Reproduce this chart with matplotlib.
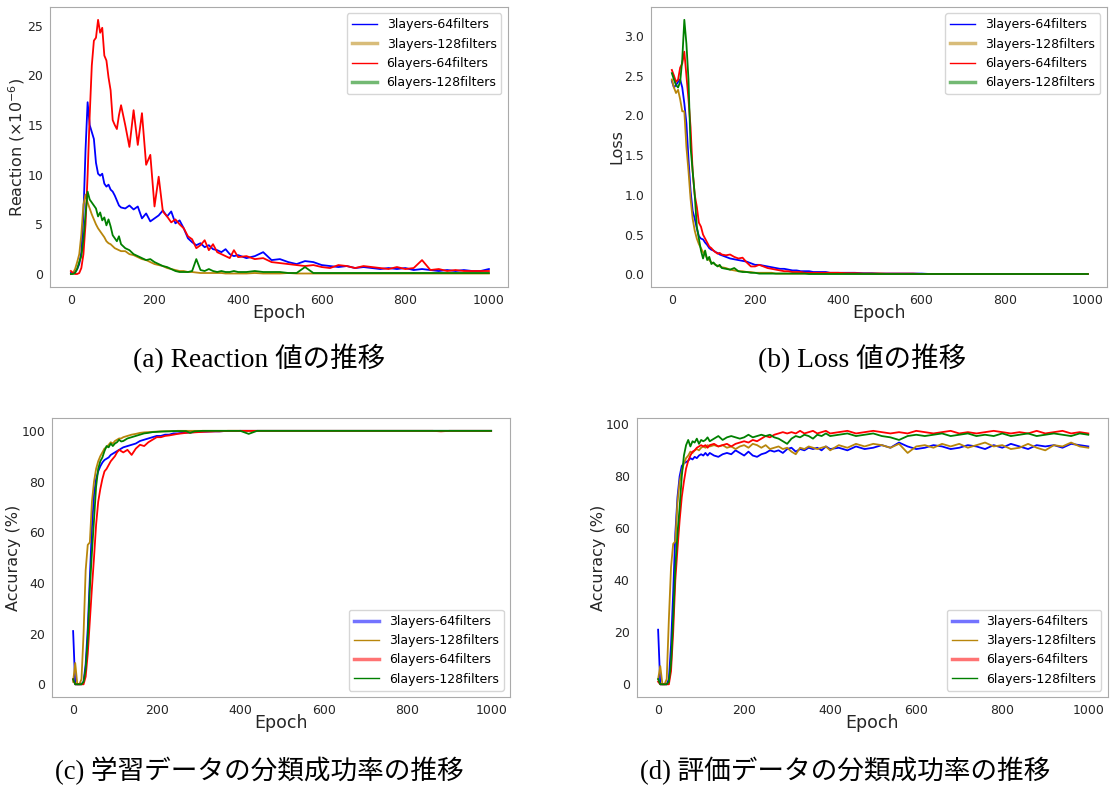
import matplotlib
matplotlib.use("Agg")
import matplotlib.pyplot as plt
from matplotlib.lines import Line2D

epochs = list(range(0, 121, 5)) + list(range(130, 401, 10)) + list(range(420, 1001, 20))

labels = ["3layers-64filters", "3layers-128filters", "6layers-64filters", "6layers-128filters"]
colors = ["blue", "darkgoldenrod", "red", "green"]

######### (a) Reaction (x10^-6)
react_3_64 = [0.1, 0.1, 0.2, 0.5, 1.0, 2.2, 6.0, 12.5, 17.3, 15.0, 14.3, 13.6, 11.2, 10.1, 9.9, 10.1, 9.1, 8.8, 9.0, 8.5, 8.3, 7.9, 7.4, 6.9, 6.7,
              6.6, 6.9, 6.5, 6.8, 5.6, 6.1, 5.3, 5.6, 5.9, 6.4, 5.8, 6.3, 5.1, 5.4, 4.6, 3.6, 3.2, 2.9, 3.1, 2.7, 2.9, 2.5, 2.4, 2.2, 2.5, 2.0, 1.8, 1.9,
              1.6, 1.8, 2.2, 1.4, 1.5, 1.2, 1.0, 1.3, 1.2, 0.9, 0.8, 0.7, 0.8, 0.6, 0.7, 0.6, 0.5, 0.6, 0.5, 0.6, 0.4, 0.5, 0.4, 0.3, 0.4, 0.3, 0.4, 0.3, 0.3, 0.5]
react_3_128 = [0.0, 0.1, 0.5, 1.2, 2.0, 4.0, 7.0, 8.0, 7.2, 6.6, 6.0, 5.5, 5.0, 4.6, 4.3, 4.0, 3.7, 3.3, 3.1, 3.0, 2.8, 2.6, 2.5, 2.4, 2.3,
               2.3, 2.0, 1.9, 1.7, 1.5, 1.4, 1.2, 1.0, 0.9, 0.8, 0.6, 0.5, 0.4, 0.3, 0.3, 0.2, 0.2, 0.15, 0.1, 0.1, 0.1, 0.1, 0.1, 0.1, 0.05, 0.05, 0.05, 0.05,
               0.05, 0.1, 0.05, 0.05, 0.05, 0.1, 0.05, 0.05, 0.05, 0.05, 0.05, 0.05, 0.05, 0.05, 0.05, 0.05, 0.05, 0.05, 0.05, 0.05, 0.05, 0.05, 0.05, 0.05, 0.05, 0.05, 0.05, 0.05, 0.05, 0.05]
react_6_64 = [0.3, 0.1, 0.0, 0.0, 0.1, 0.6, 2.0, 5.0, 10.0, 16.0, 21.0, 23.5, 23.8, 25.6, 24.3, 24.8, 22.0, 21.5, 19.8, 18.5, 15.5, 15.0, 14.6, 16.0, 17.0,
              15.0, 12.8, 16.5, 13.0, 16.2, 11.0, 12.0, 6.8, 9.8, 6.3, 5.8, 5.2, 5.5, 5.0, 4.6, 3.8, 3.5, 2.6, 2.9, 3.4, 2.4, 3.0, 2.2, 2.0, 1.8, 1.6, 2.4, 1.7,
              1.8, 1.5, 1.6, 1.2, 1.1, 1.0, 0.9, 0.8, 0.9, 0.7, 0.6, 0.9, 0.8, 0.6, 0.8, 0.7, 0.6, 0.5, 0.7, 0.5, 0.6, 1.4, 0.4, 0.5, 0.3, 0.4, 0.3, 0.3, 0.3, 0.3]
react_6_128 = [0.0, 0.0, 0.1, 0.5, 1.2, 1.8, 3.5, 6.0, 8.3, 7.5, 7.2, 6.9, 6.6, 5.8, 6.2, 5.4, 5.7, 4.9, 5.5, 4.8, 3.9, 3.6, 3.3, 3.8, 3.0,
               2.6, 2.4, 2.0, 1.8, 1.6, 1.4, 1.5, 1.2, 1.0, 0.8, 0.7, 0.5, 0.3, 0.2, 0.2, 0.2, 0.3, 1.5, 0.4, 0.3, 0.5, 0.3, 0.2, 0.3, 0.2, 0.2, 0.3, 0.2,
               0.2, 0.3, 0.2, 0.2, 0.2, 0.1, 0.1, 0.7, 0.1, 0.1, 0.1, 0.1, 0.1, 0.1, 0.1, 0.1, 0.1, 0.1, 0.1, 0.1, 0.1, 0.1, 0.1, 0.1, 0.1, 0.1, 0.1, 0.1, 0.1, 0.1]

######### (b) Loss
loss_3_64 = [2.43, 2.35, 2.38, 2.42, 2.45, 2.35, 2.15, 1.9, 1.45, 1.05, 0.8, 0.7, 0.58, 0.48, 0.45, 0.44, 0.4, 0.37, 0.33, 0.31, 0.3, 0.28, 0.27, 0.25, 0.24,
             0.22, 0.2, 0.19, 0.18, 0.17, 0.16, 0.14, 0.12, 0.12, 0.11, 0.1, 0.09, 0.08, 0.07, 0.07, 0.06, 0.05, 0.05, 0.04, 0.04, 0.04, 0.03, 0.03, 0.03, 0.03, 0.02, 0.02, 0.02,
             0.02, 0.02, 0.015, 0.015, 0.01, 0.01, 0.01, 0.01, 0.01, 0.01, 0.005, 0.005, 0.005, 0.005, 0.005, 0.005, 0.005, 0.005, 0.005, 0.005, 0.005, 0.005, 0.005, 0.005, 0.005, 0.005, 0.005, 0.005, 0.005, 0.005]
loss_3_128 = [2.45, 2.35, 2.28, 2.32, 2.2, 2.05, 2.05, 1.6, 1.3, 0.95, 0.7, 0.55, 0.45, 0.38, 0.33, 0.28, 0.25, 0.2, 0.18, 0.15, 0.14, 0.12, 0.11, 0.1, 0.09,
              0.08, 0.06, 0.05, 0.04, 0.04, 0.03, 0.03, 0.02, 0.02, 0.02, 0.02, 0.02, 0.01, 0.01, 0.01, 0.01, 0.01, 0.01, 0.01, 0.01, 0.01, 0.01, 0.01, 0.01, 0.01, 0.01, 0.01, 0.01,
              0.01, 0.01, 0.01, 0.01, 0.01, 0.005, 0.005, 0.005, 0.005, 0.005, 0.005, 0.005, 0.005, 0.005, 0.005, 0.005, 0.005, 0.005, 0.005, 0.005, 0.005, 0.005, 0.005, 0.005, 0.005, 0.005, 0.005, 0.005, 0.005, 0.005]
loss_6_64 = [2.57, 2.5, 2.42, 2.45, 2.6, 2.65, 2.8, 2.5, 2.2, 1.85, 1.3, 1.0, 0.85, 0.65, 0.6, 0.5, 0.45, 0.4, 0.35, 0.33, 0.3, 0.28, 0.26, 0.27, 0.25,
             0.24, 0.25, 0.22, 0.2, 0.21, 0.15, 0.1, 0.1, 0.12, 0.1, 0.08, 0.07, 0.06, 0.05, 0.04, 0.04, 0.03, 0.03, 0.03, 0.02, 0.02, 0.02, 0.02, 0.02, 0.02, 0.02, 0.02, 0.02,
             0.015, 0.015, 0.01, 0.01, 0.01, 0.01, 0.01, 0.01, 0.01, 0.005, 0.005, 0.005, 0.005, 0.005, 0.005, 0.005, 0.005, 0.005, 0.005, 0.005, 0.005, 0.005, 0.005, 0.005, 0.005, 0.005, 0.005, 0.005, 0.005, 0.005]
loss_6_128 = [2.53, 2.45, 2.38, 2.35, 2.42, 2.7, 3.2, 2.9, 2.45, 1.6, 1.3, 1.0, 0.6, 0.45, 0.3, 0.2, 0.3, 0.18, 0.22, 0.13, 0.15, 0.12, 0.1, 0.12, 0.08,
              0.07, 0.06, 0.08, 0.04, 0.03, 0.03, 0.02, 0.02, 0.01, 0.01, 0.01, 0.01, 0.01, 0.01, 0.01, 0.01, 0.01, 0.01, 0.01, 0.01, 0.005, 0.005, 0.005, 0.005, 0.005, 0.005, 0.005, 0.005,
              0.005, 0.005, 0.005, 0.005, 0.005, 0.005, 0.005, 0.005, 0.005, 0.005, 0.005, 0.005, 0.005, 0.005, 0.005, 0.005, 0.005, 0.005, 0.005, 0.005, 0.005, 0.005, 0.005, 0.005, 0.005, 0.005, 0.005, 0.005, 0.005, 0.005]

######### (c) training accuracy (%)
train_3_64 = [21, 0, 0, 0, 0, 1, 8, 22, 42, 62, 75, 81, 84, 86, 87.5, 88.5, 89, 89.5, 90.5, 91, 91.5, 92, 92.5, 93, 93.5,
              94, 94.5, 95, 96, 96.5, 97, 97.5, 98, 98, 98.5, 98.5, 99, 99, 99.2, 99.3, 99.4, 99.5, 99.6, 99.7, 99.7, 99.8, 99.8, 99.8, 99.9, 99.9, 99.9, 99.9, 100,
              100, 100, 100, 100, 100, 100, 100, 100, 100, 100, 100, 100, 100, 100, 100, 100, 100, 100, 100, 100, 100, 100, 100, 100, 100, 100, 100, 100, 100, 100]
train_3_128 = [1, 8.4, 0, 0, 2, 20, 45, 55, 56, 72, 80, 85, 88, 90, 91.5, 93, 93.5, 94.5, 95.5, 95, 96, 96.5, 97, 97, 97.5,
               98, 98.5, 98.8, 99.2, 99.4, 99.5, 99.6, 99.7, 99.8, 99.8, 99.9, 99.9, 100, 100, 100, 100, 100, 100, 100, 100, 100, 100, 100, 100, 100, 100, 100, 100,
               100, 100, 100, 100, 100, 100, 100, 100, 100, 100, 100, 100, 100, 100, 100, 100, 100, 100, 100, 100, 100, 100, 100, 100, 100, 100, 100, 100, 100, 100]
train_6_64 = [2, 0, 0, 0, 0, 0, 3, 12, 25, 38, 50, 63, 72, 77, 81, 84, 85, 86.5, 88, 89, 90, 91.5, 92.5, 92, 91.5,
              92.5, 90.5, 93, 94.5, 94, 95.5, 96.5, 97.5, 97.5, 98, 98.2, 98.5, 98.8, 99, 99.2, 99.3, 99.4, 99.5, 99.6, 99.7, 99.7, 99.8, 99.8, 99.9, 100, 100, 100, 100,
              100, 100, 100, 100, 100, 100, 100, 100, 100, 100, 100, 100, 100, 100, 100, 100, 100, 100, 100, 100, 100, 100, 100, 99.8, 100, 100, 100, 100, 100, 100]
train_6_128 = [2, 0, 0, 0, 0, 1, 6, 18, 38, 52, 65, 78, 85, 88, 89.5, 92, 94, 93.5, 95, 94, 95, 95.5, 96.5, 95.8, 96,
               97, 97.5, 98, 98.5, 99, 99.2, 99.5, 99.6, 99.7, 99.8, 99.8, 99.9, 99.9, 99.9, 99.9, 99.2, 99.8, 99.9, 100, 100, 100, 100, 100, 100, 100, 100, 100, 100,
               98.8, 100, 100, 100, 100, 100, 100, 100, 100, 100, 100, 100, 100, 100, 100, 100, 100, 100, 100, 100, 100, 100, 100, 100, 100, 100, 100, 100, 100, 100]

######### (d) test accuracy (%)
test_3_64 = [21, 0, 0, 0, 0, 2, 15, 35, 58, 72, 80, 84, 85, 85.5, 86, 87, 86.5, 87.5, 87, 88, 88.5, 88, 89, 88, 89,
             88, 87.5, 88.5, 89, 88.5, 90, 89, 88, 89.5, 88, 87.5, 88.5, 89, 90, 89.5, 90, 89, 90.5, 91, 89.5, 90.5, 90, 91, 90.5, 91, 90, 91.5, 90.5,
             91, 90, 91.5, 90.5, 91, 92, 91, 93, 91.5, 90.5, 91, 92, 91.5, 90.5, 91, 92, 91.5, 90.5, 92, 91, 92.5, 91.5, 90.5, 92, 91.5, 92, 91, 92.5, 92, 91.5]
test_3_128 = [2, 7, 0, 0, 2, 25, 45, 54, 55, 70, 78, 82, 85, 87, 88, 89.5, 89, 90, 90.5, 90, 91, 91.5, 91, 92, 91.5,
              92, 91.5, 92, 91, 91.5, 90.5, 91.5, 92, 91, 92.5, 92, 91, 92, 90.5, 91, 91.5, 90.5, 91, 89.5, 88.5, 91, 90.5, 91.5, 91, 90.5, 91, 91.5, 90,
              92, 91, 92.5, 91.5, 92.5, 92, 91, 92.5, 89, 91.5, 92, 91, 92.5, 91.5, 92.5, 91, 92, 93, 91.5, 92, 90.5, 91, 92.5, 91, 90, 92, 91.5, 93, 91.5, 91]
test_6_64 = [1, 0, 0, 0, 0, 0, 5, 20, 40, 52, 63, 72, 78, 83, 86, 88, 89.5, 90, 91, 91.5, 92, 91.5, 92, 91, 92,
             92.5, 91.5, 92, 92.5, 91.5, 92.5, 93, 93.5, 93, 94, 93.5, 94.5, 95.5, 95, 96, 96.5, 97, 96.5, 97, 96.5, 97.5, 96.5, 97, 97.5, 96.5, 97, 97.5, 96.5,
             97, 97.5, 96.5, 97, 97.5, 97, 96.5, 97, 96.5, 97.5, 97, 96.5, 97, 97.5, 96.5, 97, 96.5, 97, 97.5, 97, 96.5, 97, 96.5, 97.5, 96.5, 97, 97.5, 96.5, 97, 96.5]
test_6_128 = [2, 0, 0, 0, 0, 1, 8, 25, 45, 58, 68, 80, 88, 92, 94, 91.5, 93.5, 93, 94.5, 92.5, 94, 93.5, 94, 95, 93.5,
              94.5, 95.5, 94, 95, 95.5, 95, 94.5, 95, 96, 95, 95.5, 96, 95.5, 96, 95, 94.5, 93.5, 92.5, 94.5, 95.5, 95, 96, 95.5, 94.5, 96, 95.5, 96.5, 95.5,
              96, 96.5, 95.5, 96, 96.5, 95.5, 95, 94, 95.5, 96, 95.5, 96, 96.5, 95.5, 96, 96.5, 95.5, 96, 95.5, 96.5, 95.5, 96, 96.5, 95.5, 96, 96.5, 96, 95.5, 96.5, 96]

plt.rcParams["axes.edgecolor"] = "#aaaaaa"
plt.rcParams["xtick.color"] = "#aaaaaa"
plt.rcParams["ytick.color"] = "#aaaaaa"
plt.rcParams["xtick.labelcolor"] = "#262626"
plt.rcParams["ytick.labelcolor"] = "#262626"
plt.rcParams["xtick.labelsize"] = 9
plt.rcParams["ytick.labelsize"] = 9
plt.rcParams["xtick.major.size"] = 0
plt.rcParams["ytick.major.size"] = 0
plt.rcParams["xtick.major.pad"] = 5
plt.rcParams["ytick.major.pad"] = 5
plt.rcParams["axes.labelcolor"] = "#262626"

fig = plt.figure(figsize=(11.11, 7.92), dpi=100)

panels = [
    ([0.045, 0.638, 0.412, 0.353], [react_3_64, react_3_128, react_6_64, react_6_128], r"Reaction ($\times10^{-6}$)", "upper right", 0),
    ([0.586, 0.638, 0.410, 0.353], [loss_3_64, loss_3_128, loss_6_64, loss_6_128], "Loss", "upper right", 0),
    ([0.047, 0.120, 0.412, 0.352], [train_3_64, train_3_128, train_6_64, train_6_128], "Accuracy (%)", "lower right", 1),
    ([0.573, 0.120, 0.424, 0.352], [test_3_64, test_3_128, test_6_64, test_6_128], "Accuracy (%)", "lower right", 1),
]

for rect, series, ylab, loc, style in panels:
    ax = fig.add_axes(rect)
    for s, c in zip(series, colors):
        ax.plot(epochs, s, color=c, lw=1.3)
    ax.set_xlim(-50, 1045)
    ax.set_xticks([0, 200, 400, 600, 800, 1000])
    ax.set_xlabel("Epoch", fontsize=12.5, labelpad=-2)
    ax.set_ylabel(ylab, fontsize=11.5, labelpad=0)
    # legend lines are drawn a bit differently from the plot lines
    handles = []
    for i, c in enumerate(colors):
        faded = (i % 2 == 1) if style == 0 else (i % 2 == 0)
        if faded:
            handles.append(Line2D([], [], color=c, lw=2.5, alpha=0.55))
        else:
            handles.append(Line2D([], [], color=c, lw=1.0))
    ax.legend(handles, labels, loc=loc, fontsize=9)

cap_font = ["Liberation Serif", "Noto Sans CJK JP"]
fig.text(0.233, 0.548, "(a) Reaction 値の推移", ha="center", va="center", fontsize=19.8, family=cap_font)
fig.text(0.776, 0.548, "(b) Loss 値の推移", ha="center", va="center", fontsize=19.8, family=cap_font)
fig.text(0.233, 0.027, "(c) 学習データの分類成功率の推移", ha="center", va="center", fontsize=19.2, family=cap_font)
fig.text(0.761, 0.027, "(d) 評価データの分類成功率の推移", ha="center", va="center", fontsize=19.2, family=cap_font)

plt.savefig("out.png", dpi=100)
